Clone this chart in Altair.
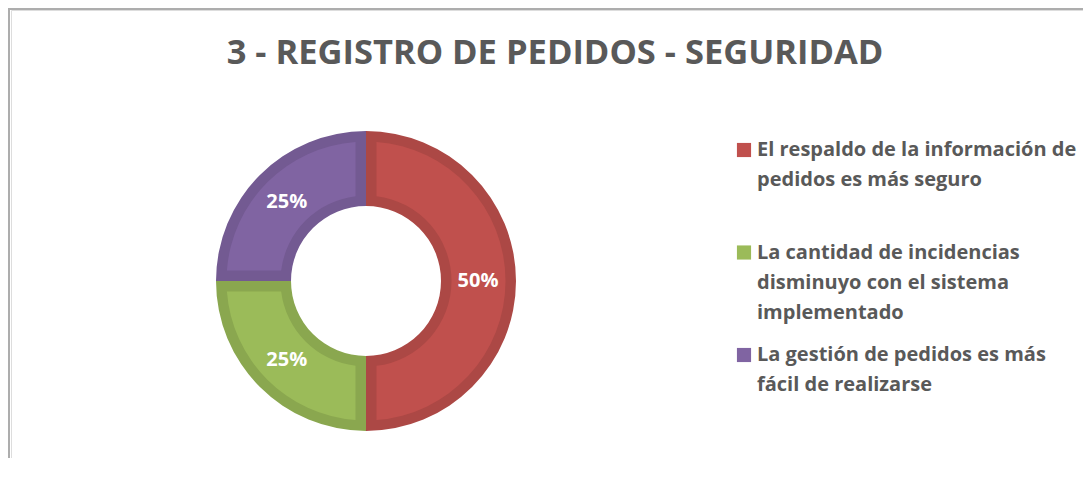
import altair as alt
import pandas as pd

# ---- data ----
title_text = "3 - REGISTRO DE PEDIDOS - SEGURIDAD"
series = [
    "El respaldo de la información de pedidos es más seguro",
    "La cantidad de incidencias disminuyo con el sistema implementado",
    "La gestión de pedidos es más fácil de realizarse",
]
values = [50, 25, 25]
pct_labels = ["50%", "25%", "25%"]
legend_lines = [
    ["El respaldo de la información de", "pedidos es más seguro"],
    ["La cantidad de incidencias", "disminuyo con el sistema", "implementado"],
    ["La gestión de pedidos es más", "fácil de realizarse"],
]
fill_colors = ["#C0504D", "#9BBB59", "#8064A2"]
edge_colors = ["#AC4845", "#8AA74F", "#735A92"]

# ---- layout / style ----
W, H = 1072, 448
CX, CY = 355, 271
R_OUT, R_IN, INSET = 150, 75, 10.5
FONT = "Open Sans"
TXT = "#595959"

pie_df = pd.DataFrame({
    "serie": series,
    "valor": values,
    "etiqueta": pct_labels,
    "orden": list(range(len(series))),
})

rows = []
for i, (s, lines) in enumerate(zip(series, legend_lines)):
    for j, t in enumerate(lines):
        rows.append({"serie": s, "texto": t, "entrada": i, "linea": j})
leg_df = pd.DataFrame(rows)

color_scale = alt.Scale(domain=series, range=fill_colors)
edge_scale = alt.Scale(domain=series, range=edge_colors)

base_pie = alt.Chart(pie_df).encode(
    theta=alt.Theta("valor:Q", stack=True),
    order=alt.Order("orden:Q"),
    x=alt.value(CX),
    y=alt.value(CY),
)

# darker edge ring (full slices)
arcs_edge = base_pie.mark_arc(radius=R_OUT, radius2=R_IN).encode(
    fill=alt.Fill("serie:N", scale=edge_scale, legend=None),
)
# lighter inset body of each slice
r1, r0 = R_OUT - INSET, R_IN + INSET
pad = 2 * INSET / (r1 ** 2 + r0 ** 2) ** 0.5
arcs_body = base_pie.mark_arc(radius=r1, radius2=r0, padAngle=pad).encode(
    color=alt.Color("serie:N", scale=color_scale, legend=None),
)

pct = base_pie.mark_text(
    radius=112, font=FONT, fontSize=20, fontWeight="bold", color="white",
    align="center", baseline="middle",
).encode(text="etiqueta:N")

leg_base = alt.Chart(leg_df).transform_calculate(
    pos="datum.entrada * 102.5 + datum.linea * 30"
)
y_leg = alt.Y("pos:Q", scale=alt.Scale(domain=[-140, H - 140], range=[0, H]), axis=None)

leg_sq = leg_base.transform_filter("datum.linea == 0").mark_square(size=200, opacity=1).encode(
    x=alt.value(733),
    y=y_leg,
    color=alt.Color("serie:N", scale=color_scale, legend=None),
)
leg_txt = leg_base.mark_text(
    align="left", baseline="middle", font=FONT, fontSize=20, fontWeight="bold", color=TXT,
).encode(x=alt.value(746), y=y_leg, text="texto:N")

title = alt.Chart(pd.DataFrame({"t": [title_text]})).mark_text(
    font=FONT, fontSize=34.5, fontWeight="bold", color=TXT, align="center", baseline="middle",
).encode(text="t:N", x=alt.value(544), y=alt.value(44))

frame_left = alt.Chart(pd.DataFrame({"k": [0]})).mark_rule(color="#ADADAD", strokeWidth=2).encode(
    x=alt.value(-2), y=alt.value(-2), y2=alt.value(H + 10)
)
frame_top = alt.Chart(pd.DataFrame({"k": [0]})).mark_rule(color="#ADADAD", strokeWidth=2).encode(
    x=alt.value(-3), x2=alt.value(W + 10), y=alt.value(-1)
)

chart = alt.layer(frame_left, frame_top, arcs_edge, arcs_body, pct, leg_sq, leg_txt, title).properties(
    width=W, height=H,
    padding={"left": 3, "top": 2, "right": 0, "bottom": 0},
    autosize=alt.AutoSizeParams(type="none"),
).configure_view(stroke=None).configure(background="white")

chart.save("out.html", embed_options={"renderer": "svg", "actions": False})
